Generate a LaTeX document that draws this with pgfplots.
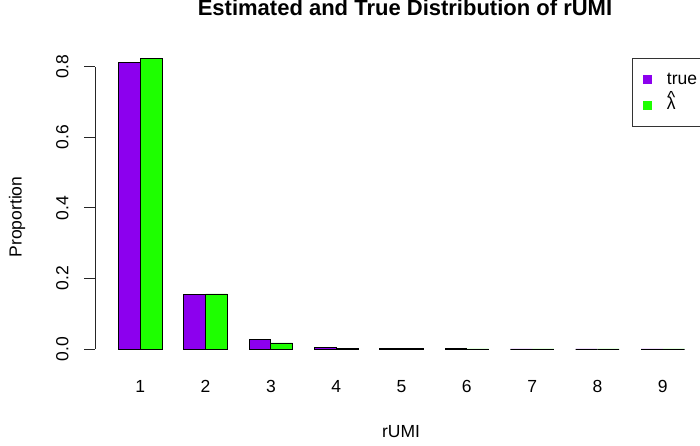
\documentclass[border=0pt]{standalone}
\usepackage{fontspec}
\setmainfont{Liberation Sans}
\usepackage{pgfplots}
\usepackage{pgfplotstable}
\pgfplotsset{compat=1.18}

\definecolor{barpurple}{RGB}{140,0,238}
\definecolor{bargreen}{RGB}{30,255,0}

\newcommand{\basefont}{\fontsize{17.5bp}{21bp}\selectfont}
\newcommand{\titlefont}{\fontsize{22bp}{26bp}\selectfont\bfseries}
\newcommand{\lambdahat}{\ooalign{λ\cr\hidewidth\raisebox{0.38em}{\textasciicircum}\hidewidth\cr}}

% proportion of reads per rUMI count: true vs. estimated
\pgfplotstableread{
k  true    est
1  0.811   0.824
2  0.155   0.156
3  0.028   0.017
4  0.005   0.002
5  0.001   0.0005
6  0.0002  0.0001
7  0       0
8  0       0
9  0       0
}\rumidata

\begin{document}
\begin{tikzpicture}
\begin{axis}[
  at={(95bp,85.4bp)}, anchor=south west,
  scale only axis, width=605bp, height=313.6bp,
  xmin=0.307, xmax=9.57, ymin=-0.033, ymax=0.856,
  axis lines*=left,
  axis line style={draw=none},
  clip=false,
  ybar=0pt, bar width=0.3333,
  xtick={1,...,9}, xticklabels={1,2,3,4,5,6,7,8,9},
  ytick={0,0.2,0.4,0.6,0.8}, yticklabels={0.0,0.2,0.4,0.6,0.8},
  tick align=outside, major tick length=10.5bp,
  y tick style={black!85, line width=0.8bp},
  x tick style={draw=none},
  /pgf/number format/assume math mode=true,
  tick label style={font=\basefont},
  xticklabel style={anchor=base, yshift=-21bp},
  yticklabel style={xshift=-16bp, rotate=90, anchor=base},
  title={Estimated and True Distribution of rUMI},
  title style={at={(axis description cs:0.5124,1.0798)}, anchor=base, font=\titlefont},
  xlabel={rUMI},
  xlabel style={at={(axis description cs:0.5058,-0.2468)}, anchor=base, font=\basefont},
  ylabel={Proportion},
  ylabel style={at={(axis description cs:-0.1212,0.458)}, rotate=0, anchor=base, font=\basefont},
  legend style={at={(axis description cs:0.8881,0.964)}, anchor=north west,
    draw=black!80, line width=0.8bp, fill=white,
    inner xsep=10.7bp, inner ysep=12.5bp, row sep=8.7bp, column sep=14.7bp,
    font=\basefont,
    nodes={inner sep=0bp, text height=13bp, text depth=4bp}},
  legend cell align=left,
]
\addplot[fill=barpurple, draw=black, line width=0.8bp,
  legend image code/.code={\fill[barpurple] (0bp,-4bp) rectangle (8bp,4bp);}]
  table[x=k, y=true] {\rumidata};
\addplot[fill=bargreen, draw=black, line width=0.8bp,
  legend image code/.code={\fill[bargreen] (0bp,-4bp) rectangle (8bp,4bp);}]
  table[x=k, y=est] {\rumidata};
\legend{true,{\lambdahat}}
% y axis line spans only the tick range
\draw[black!85, line width=0.8bp] (axis cs:0.307,0) -- (axis cs:0.307,0.8);
\end{axis}
\pgfresetboundingbox
\useasboundingbox (0,0) rectangle (700bp,446bp);
\end{tikzpicture}
\end{document}
